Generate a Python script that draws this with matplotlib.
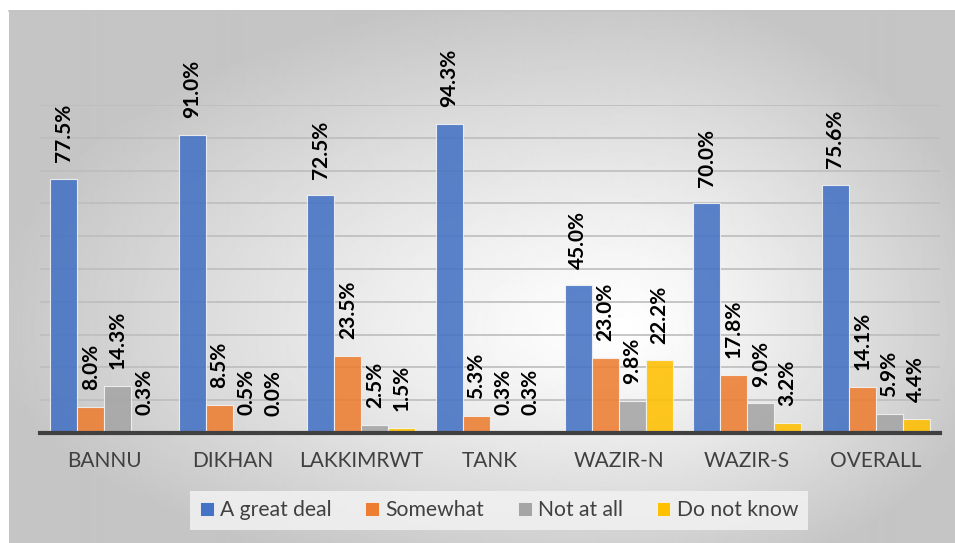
import numpy as np
import matplotlib.pyplot as plt
from matplotlib.patches import Patch

plt.rcParams['font.family'] = ['Lato', 'DejaVu Sans']

# survey results by district (percent)
districts = ['BANNU', 'DIKHAN', 'LAKKIMRWT', 'TANK', 'WAZIR-N', 'WAZIR-S', 'OVERALL']
great_deal = [77.5, 91.0, 72.5, 94.3, 45.0, 70.0, 75.6]
somewhat = [8.0, 8.5, 23.5, 5.3, 23.0, 17.8, 14.1]
not_at_all = [14.3, 0.5, 2.5, 0.3, 9.8, 9.0, 5.9]
dont_know = [0.3, 0.0, 1.5, 0.3, 22.2, 3.2, 4.4]

series = [great_deal, somewhat, not_at_all, dont_know]
names = ['A great deal', 'Somewhat', 'Not at all', 'Do not know']
colors = ['#4472C4', '#ED7D31', '#A5A5A5', '#FFC000']

W, H = 955, 543
fig = plt.figure(figsize=(W / 100, H / 100), dpi=100)
fig.patch.set_facecolor('white')

# gray chart area with a light radial fill
bg = fig.add_axes([9 / W, 0, 1 - 9 / W, 1 - 10 / H])
xx, yy = np.meshgrid(np.arange(9, W), np.arange(10, H))
cx, cy = 620, 330
ax_r = np.where(xx > cx, 380, 640)
ay_r = np.where(yy > cy, 260, 340)
t = np.clip(np.sqrt(((xx - cx) / ax_r) ** 2 + ((yy - cy) / ay_r) ** 2), 0, 1)
shade = 1.0 - 0.23 * t ** 1.2
bg.imshow(shade, cmap='gray', vmin=0, vmax=1, aspect='auto', interpolation='bilinear')
bg.set_axis_off()
fig.add_artist(plt.Line2D([9 / W, 1], [1 - 10.5 / H, 1 - 10.5 / H], color='#c4c4c4', lw=1.2))

ax = fig.add_axes([40 / W, 110 / H, 900 / W, 328 / H])
ax.patch.set_alpha(0)
x = np.arange(len(districts))
w = 0.21
for i, (vals, col) in enumerate(zip(series, colors)):
    pos = x + (i - 1.5) * w
    ax.bar(pos, vals, width=w, color=col, alpha=0.88, edgecolor='#f4f4f4',
           linewidth=0.8, zorder=3)
    for px, v in zip(pos, vals):
        ax.annotate(f'{v:.1f}%', (px, v), xytext=(0, 12), textcoords='offset points',
                    rotation=90, ha='center', va='bottom', fontsize=15,
                    fontweight='bold', color='black', annotation_clip=False)

ax.set_xlim(-0.5, len(districts) - 0.5)
ax.set_ylim(0, 100)
ax.set_yticks(np.arange(10, 101, 10))
ax.yaxis.grid(True, color='#bdbdbd', lw=1.2, zorder=1)
ax.tick_params(axis='y', left=False, labelleft=False)
ax.tick_params(axis='x', length=0, pad=13, labelsize=15, labelcolor='#404040')
ax.set_xticks(x)
ax.set_xticklabels(districts)
for s in ['top', 'right', 'left']:
    ax.spines[s].set_visible(False)
ax.spines['bottom'].set_color('#404040')
ax.spines['bottom'].set_linewidth(3)
ax.spines['bottom'].set_zorder(4)

handles = [Patch(facecolor=c, edgecolor='#f4f4f4', lw=0.6) for c in colors]
leg = fig.legend(handles, names, ncol=4, loc='center', bbox_to_anchor=(499 / W, 1 - 510 / H),
                 frameon=True, fontsize=15.2, handlelength=0.65, handleheight=0.65,
                 handletextpad=0.3, columnspacing=1.6, borderpad=0.45, fancybox=False)
leg.get_frame().set_facecolor('#f2f2f2')
leg.get_frame().set_edgecolor('none')
leg.get_frame().set_alpha(0.85)
for txt in leg.get_texts():
    txt.set_color('#404040')

fig.savefig('out.png', dpi=100)
